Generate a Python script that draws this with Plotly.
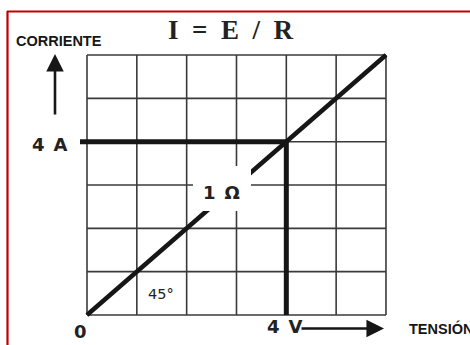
import plotly.graph_objects as go

# ---- data ----
grid_ticks = [0, 1, 2, 3, 4, 5, 6]          # grid divisions (V and A)
voltage = [0, 6]                            # E (V) for the R = 1 ohm line
current = [0, 6]                            # I (A) for the R = 1 ohm line
op_voltage = 4                              # operating point: 4 V
op_current = 4                              # operating point: 4 A
labels = {"title": "I\u00a0\u00a0=\u00a0\u00a0E\u00a0\u00a0/\u00a0\u00a0R",
          "y": "CORRIENTE", "x": "TENSIÓN",
          "i": "4\u2002A", "v": "4\u2002V", "zero": "0",
          "r": "1\u2002Ω", "angle": "45°"}

# ---- pixel geometry of the grid (figure is 470 x 345, no margins) ----
W, H = 470, 345
X0, Y0 = 87, 315          # pixel position of (0, 0)
SX, SY = 49.83, 43.33     # pixels per unit
xr = [-X0 / SX, (W - X0) / SX]
yr = [(Y0 - H) / SY, Y0 / SY]

def px(xp):  # pixel x -> data x
    return (xp - X0) / SX

def py(yp):  # pixel y -> data y
    return (Y0 - yp) / SY

INK = "#161616"
TXT = "#222222"
fig = go.Figure()

# grid
gx, gy = [], []
for t in grid_ticks:
    gx += [t, t, None]
    gy += [grid_ticks[0], grid_ticks[-1], None]
    gx += [grid_ticks[0], grid_ticks[-1], None]
    gy += [t, t, None]
fig.add_trace(go.Scatter(x=gx, y=gy, mode="lines",
                         line=dict(color="#3a3a3a", width=1.6),
                         hoverinfo="skip", showlegend=False))

# R = 1 ohm line
fig.add_trace(go.Scatter(x=voltage, y=current, mode="lines",
                         line=dict(color=INK, width=4.5),
                         hoverinfo="skip", showlegend=False))

# operating point projection (4 A / 4 V)
fig.add_trace(go.Scatter(x=[px(80), op_voltage, op_voltage],
                         y=[op_current, op_current, 0], mode="lines",
                         line=dict(color=INK, width=5),
                         hoverinfo="skip", showlegend=False))

shapes = [
    # white patch behind "1 Ω"
    dict(type="rect", xref="x", yref="y", layer="above",
         x0=px(193), x1=px(251), y0=py(211), y1=py(166),
         fillcolor="white", line=dict(width=0)),
    # red frame (top + left)
    dict(type="line", xref="x", yref="y", x0=px(7), x1=px(470),
         y0=py(11.5), y1=py(11.5), line=dict(color="#c00000", width=2.2)),
    dict(type="line", xref="x", yref="y", x0=px(7.5), x1=px(7.5),
         y0=py(11), y1=py(345), line=dict(color="#c00000", width=2.2)),
]

ann = []
def txt(t, xp, yp, size, family="DejaVu Sans", bold=False, xanchor="center", color=TXT):
    ann.append(dict(text=f"<b>{t}</b>" if bold else t, x=px(xp), y=py(yp),
                    xref="x", yref="y", showarrow=False, xanchor=xanchor,
                    yanchor="middle",
                    font=dict(size=size, family=family, color=color)))

txt(labels["title"], 230, 30, 27, family="Liberation Serif", bold=True)
txt(labels["y"], 14, 41, 14.5, family="Liberation Sans", bold=True, xanchor="left", color=INK)
txt(labels["x"], 407, 328, 14.5, family="Liberation Sans", bold=True, xanchor="left", color=INK)
txt(labels["i"], 50, 144, 18, bold=True)
txt(labels["v"], 285, 326, 18, bold=True)
txt(labels["zero"], 80, 331, 18, bold=True)
txt(labels["r"], 221, 192, 18, bold=True)
txt(labels["angle"], 161, 294, 14.5)

# arrows
ann.append(dict(x=px(55), y=py(54), xref="x", yref="y", ax=0, ay=62,
                showarrow=True, arrowhead=2, arrowsize=1.35, arrowwidth=2.6,
                arrowcolor=INK, text=""))
ann.append(dict(x=px(384), y=py(328.5), xref="x", yref="y", ax=-84, ay=0,
                showarrow=True, arrowhead=2, arrowsize=1.35, arrowwidth=2.6,
                arrowcolor=INK, text=""))

fig.update_layout(
    width=W, height=H, margin=dict(l=0, r=0, t=0, b=0),
    paper_bgcolor="white", plot_bgcolor="white",
    xaxis=dict(range=xr, visible=False, fixedrange=True),
    yaxis=dict(range=yr, visible=False, fixedrange=True),
    shapes=shapes, annotations=ann, showlegend=False,
)
fig.write_html("out.html", config={"displayModeBar": False},
               post_script="document.body.style.margin='0';document.body.style.overflow='hidden';")
